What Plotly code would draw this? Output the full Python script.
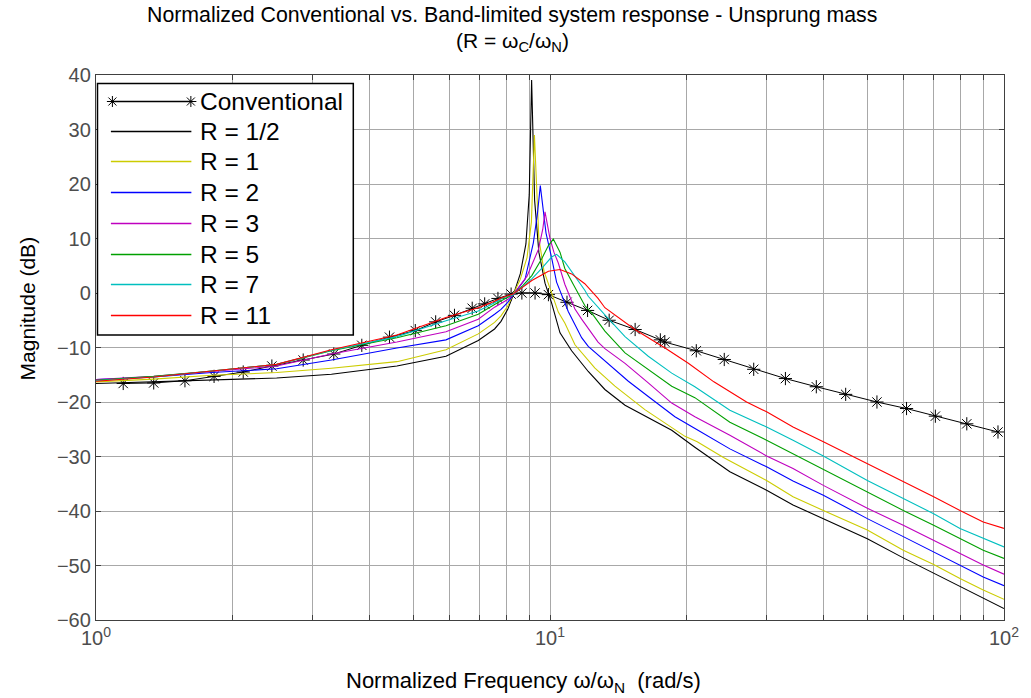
import plotly.graph_objects as go

# ---------------- data ----------------
conv_f = [1.148, 1.34, 1.57, 1.82, 2.11, 2.44, 2.86, 3.34, 3.85, 4.43, 5.05, 5.60, 6.16,
          6.74, 7.18, 7.68, 8.21, 8.67, 9.27, 9.92, 10.9, 12.1, 13.5, 15.4, 17.5, 17.9,
          21.0, 24.2, 28.1, 33.0, 38.6, 44.8, 52.5, 61.0, 70.6, 82.8, 97.0]
conv_db = [-16.6, -16.5, -16.1, -15.3, -14.5, -13.4, -12.3, -11.2, -9.6, -8.1, -6.9, -5.3, -4.1,
           -2.8, -2.0, -1.0, -0.2, 0.0, 0.0, -0.3, -1.7, -3.2, -5.0, -6.7, -8.6, -9.0,
           -10.6, -12.2, -14.0, -15.7, -17.2, -18.6, -20.0, -21.2, -22.6, -24.0, -25.5]

r_half_f = [1.0, 1.34, 1.8, 2.5, 3.3, 4.6, 5.9, 6.95, 7.55, 7.8, 8.07, 8.3, 8.6, 8.85, 9.0, 9.11,
            9.25, 9.45, 9.75, 10.08, 10.52, 11.16, 12.14, 13.21, 14.63, 16.46, 18.54, 20.85,
            24.9, 30, 34.3, 40, 50, 60, 70, 80, 90, 100]
r_half_db = [-16.6, -16.3, -15.9, -15.6, -14.9, -13.4, -11.6, -8.7, -6.6, -5.2, -3.0, -0.4, 3.5, 9.0, 18.0, 39.1,
             17.0, 7.5, 1.8, -1.8, -7.3, -10.6, -14.4, -17.7, -20.6, -22.9, -25.2, -28.3,
             -32.8, -36.2, -38.9, -41.4, -45.1, -48.6, -51.4, -53.9, -56.0, -57.9]

r_1_f = [1.0, 1.34, 1.8, 2.5, 3.3, 4.6, 5.9, 6.95, 7.55, 7.8, 8.07, 8.3, 8.6, 8.9, 9.1, 9.24,
         9.45, 9.7, 10.0, 10.43, 10.78, 11.35, 12.56, 13.9, 16.18, 19.83, 21.1, 24.1,
         30, 34.3, 40, 50, 60, 70, 80, 90, 100]
r_1_db = [-16.3, -15.8, -15.1, -14.6, -13.8, -12.6, -10.4, -7.5, -5.4, -4.2, -2.4, -0.3, 2.5, 6.5, 13.0, 29.0,
          10.0, 4.0, 1.0, -3.5, -5.5, -9.5, -13.8, -17.1, -21.4, -26.3, -27.3, -30.2,
          -34.4, -37.4, -39.9, -43.5, -47.2, -49.8, -52.4, -54.5, -56.2]

r_2_f = [1.0, 1.34, 1.8, 2.5, 3.3, 4.6, 5.9, 6.95, 7.55, 7.8, 8.07, 8.3, 8.81, 9.19, 9.39, 9.52,
         9.8, 10.08, 10.34, 10.97, 11.74, 12.14, 13.21, 14.88, 16.46, 18.84, 21.0, 24.9,
         30, 34.3, 40, 50, 60, 70, 80, 90, 100]
r_2_db = [-15.9, -15.4, -14.6, -13.9, -12.3, -10.1, -8.6, -6.0, -3.9, -3.0, -1.7, -0.3, 2.5, 9.2, 14.8, 19.7,
          11.0, 6.5, 2.0, -3.4, -8.2, -9.8, -12.4, -16.2, -19.0, -22.7, -25.0, -28.6,
          -31.9, -34.5, -37.1, -41.4, -44.7, -47.5, -49.9, -52.1, -53.7]

r_3_f = [1.0, 1.34, 1.8, 2.5, 3.3, 4.6, 5.9, 6.95, 7.55, 7.8, 8.07, 8.3, 8.9, 9.43, 9.64, 9.75,
         10.0, 10.2, 10.43, 10.78, 11.34, 11.74, 12.76, 13.21, 14.63, 16.46, 18.54, 20.85,
         24.9, 30, 34.3, 40, 50, 60, 70, 80, 90, 100]
r_3_db = [-15.9, -15.3, -14.4, -13.4, -11.2, -9.0, -7.1, -4.8, -2.6, -1.9, -1.2, -0.3, 3.1, 8.0, 11.7, 14.9,
          10.0, 7.5, 5.5, 1.6, -2.9, -4.8, -9.0, -10.2, -12.9, -16.5, -20.2, -22.7,
          -26.1, -29.9, -32.2, -35.3, -39.5, -42.6, -45.4, -47.8, -49.9, -51.6]

r_5_f = [1.0, 1.34, 1.8, 2.5, 3.3, 4.6, 5.9, 6.95, 7.55, 7.8, 8.07, 8.3, 8.7, 9.12, 9.59, 9.92,
         10.17, 10.52, 10.78, 11.25, 11.93, 12.36, 13.21, 14.63, 16.46, 18.54, 20.85, 24.9,
         30, 34.3, 40, 50, 60, 70, 80, 90, 100]
r_5_db = [-16.0, -15.3, -14.3, -13.1, -10.6, -8.2, -6.0, -3.9, -2.1, -1.4, -0.8, -0.3, 1.3, 3.2, 6.3, 8.7,
          9.9, 7.5, 4.5, 1.6, -2.3, -3.7, -7.0, -11.0, -14.1, -17.1, -19.2, -23.7,
          -27.0, -29.5, -32.3, -36.5, -39.9, -42.6, -45.0, -47.2, -48.7]

r_7_f = [1.0, 1.34, 1.8, 2.5, 3.3, 4.6, 5.9, 6.95, 7.55, 7.8, 8.07, 8.3, 9.12, 9.59, 10.08, 10.34,
         10.78, 11.34, 11.93, 12.14, 12.76, 13.21, 14.63, 16.46, 18.54, 20.85, 24.9,
         30, 34.3, 40, 50, 60, 70, 80, 90, 100]
r_7_db = [-16.1, -15.4, -14.3, -13.1, -10.5, -8.0, -5.1, -3.3, -1.8, -1.1, -0.6, -0.3, 2.6, 4.5, 6.6, 7.1,
          5.7, 3.2, 0.5, -0.6, -2.5, -4.0, -8.0, -11.6, -14.7, -17.2, -21.5,
          -24.6, -27.0, -29.9, -34.4, -37.7, -40.5, -43.2, -45.0, -46.6]

r_11_f = [1.0, 1.34, 1.8, 2.5, 3.3, 4.6, 5.9, 6.95, 7.55, 7.8, 8.07, 8.3, 9.12, 9.92, 10.52,
          11.16, 11.93, 12.76, 13.21, 14.12, 15.38, 17.92, 20.17, 22.96, 27.1,
          30, 34.3, 40, 50, 60, 70, 80, 90, 100]
r_11_db = [-16.2, -15.4, -14.3, -13.1, -10.4, -7.7, -4.5, -2.7, -1.5, -0.9, -0.5, -0.2, 2.3, 4.0, 4.3,
           3.5, 1.7, -1.0, -2.7, -4.4, -6.7, -10.1, -12.9, -16.3, -20.0,
           -21.8, -24.6, -27.3, -31.3, -34.7, -37.4, -39.9, -42.0, -43.2]

series_names = ["R = 1/2", "R = 1", "R = 2", "R = 3", "R = 5", "R = 7", "R = 11"]
series_f = [r_half_f, r_1_f, r_2_f, r_3_f, r_5_f, r_7_f, r_11_f]
series_db = [r_half_db, r_1_db, r_2_db, r_3_db, r_5_db, r_7_db, r_11_db]
series_colors = ["#000000", "#cccc00", "#0000ff", "#bf00bf", "#00a000", "#00bfbf", "#ff0000"]

x_major_vals = [1, 10, 100]
x_major_text = ["10<sup>0</sup>", "10<sup>1</sup>", "10<sup>2</sup>"]
x_minor_vals = [2, 3, 4, 5, 6, 7, 8, 9, 20, 30, 40, 50, 60, 70, 80, 90]

# ---------------- figure ----------------
FONT = "Liberation Sans, Arial, Helvetica, sans-serif"
fig = go.Figure()

fig.add_trace(go.Scatter(
    x=conv_f, y=conv_db, mode="lines+markers", name="Conventional",
    line=dict(color="black", width=1),
    marker=dict(symbol="asterisk-open", size=11, color="black", line=dict(color="black", width=1)),
))
for name, fx, dbv, col in zip(series_names, series_f, series_db, series_colors):
    fig.add_trace(go.Scatter(x=fx, y=dbv, mode="lines", name=name,
                             line=dict(color=col, width=1.1)))

L, R, T, B = 96, 21, 75, 78
W, H = 1031, 698
PW, PH = W - L - R, H - T - B

def px(xp):
    return (xp - L) / PW

def py(yp):
    return (H - B - yp) / PH

GRID = "#a8a8a8"
axis_common = dict(
    showline=True, linecolor="#404040", linewidth=1.3, mirror="allticks",
    ticks="inside", ticklen=5, tickcolor="#404040", tickwidth=1,
    showgrid=True, gridcolor=GRID, gridwidth=1, zeroline=False,
    tickfont=dict(family=FONT, size=20, color="#4d4d4d"),
)
fig.update_xaxes(type="log", range=[0, 2], tickmode="array", tickvals=x_major_vals,
                 ticktext=x_major_text,
                 minor=dict(tickmode="array", tickvals=x_minor_vals, ticks="inside", ticklen=5,
                            tickcolor="#404040", showgrid=True, gridcolor=GRID, gridwidth=1),
                 **axis_common)
fig.update_yaxes(range=[-60, 40], tickmode="linear", tick0=-60, dtick=10, **axis_common)

fig.update_layout(
    width=W, height=H, autosize=False,
    margin=dict(l=L, r=R, t=T, b=B, pad=0),
    paper_bgcolor="white", plot_bgcolor="white",
    showlegend=False,
    font=dict(family=FONT, size=20, color="black"),
)

annotations = [
    dict(text="Normalized Conventional vs. Band-limited system response - Unsprung mass",
         x=px(515), y=py(15.5), xref="paper", yref="paper", xanchor="center", yanchor="middle",
         showarrow=False, font=dict(family=FONT, size=21.3, color="black")),
    dict(text="(R = ω<sub>C</sub>/ω<sub>N</sub>)",
         x=px(515), y=py(42), xref="paper", yref="paper", xanchor="center", yanchor="middle",
         showarrow=False, font=dict(family=FONT, size=21, color="black")),
    dict(text="Normalized Frequency ω/ω<sub>N</sub>\u00a0\u00a0(rad/s)",
         x=px(526), y=py(682), xref="paper", yref="paper", xanchor="center", yanchor="middle",
         showarrow=False, font=dict(family=FONT, size=22, color="black")),
    dict(text="Magnitude (dB)", textangle=-90,
         x=px(27), y=py(308), xref="paper", yref="paper", xanchor="center", yanchor="middle",
         showarrow=False, font=dict(family=FONT, size=21, color="black")),
]

# manual legend (box, sample lines, labels)
shapes = [dict(type="rect", xref="paper", yref="paper", x0=px(97.5), x1=px(355), y0=py(335), y1=py(83.5),
               line=dict(color="black", width=1.5), fillcolor="white", layer="above")]
legend_names = ["Conventional"] + series_names
legend_colors = ["#000000"] + series_colors
legend_rows = [101.5, 131.5, 161.5, 192.5, 223.5, 254.5, 284.5, 315.5]
for nm, col, ry in zip(legend_names, legend_colors, legend_rows):
    shapes.append(dict(type="line", xref="paper", yref="paper", x0=px(111), x1=px(192), y0=py(ry), y1=py(ry),
                       line=dict(color=col, width=1.5), layer="above"))
    annotations.append(dict(text=nm, x=px(199), y=py(ry), xref="paper", yref="paper",
                            xanchor="left", yanchor="middle", showarrow=False,
                            font=dict(family=FONT, size=24.5, color="black")))
star = "M-5.5,0L5.5,0M0,-5.5L0,5.5M-4,-4L4,4M-4,4L4,-4"
for mx in (112.5, 191.5):
    shapes.append(dict(type="path", xref="paper", yref="paper", xsizemode="pixel", ysizemode="pixel",
                       xanchor=px(mx), yanchor=py(legend_rows[0]), path=star,
                       line=dict(color="black", width=1), layer="above"))

fig.update_layout(annotations=annotations, shapes=shapes)
fig.write_html("out.html", config={"displayModeBar": False},
               post_script="document.body.style.margin='0';document.body.style.padding='0';")
